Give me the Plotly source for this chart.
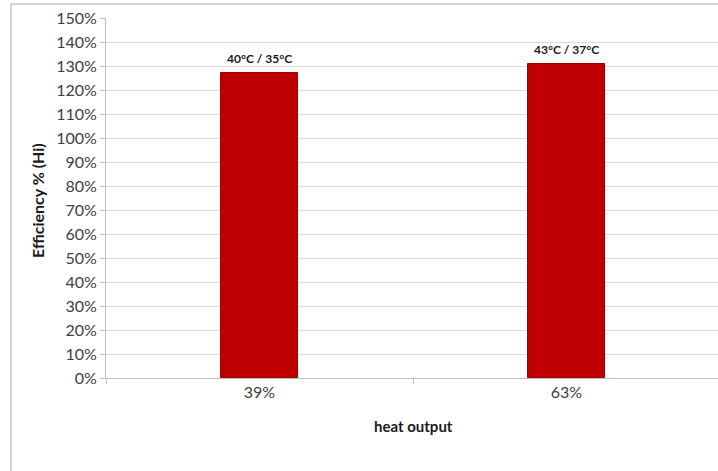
import plotly.graph_objects as go

categories = ["39%", "63%"]
efficiency = [127, 131]
bar_labels = ["40°C / 35°C", "43°C / 37°C"]
y_ticks = list(range(0, 151, 10))
y_tick_text = [f"{v}%" for v in y_ticks]

FONT = "Lato"

fig = go.Figure()
fig.add_trace(go.Bar(
    x=categories,
    y=efficiency,
    width=0.254,
    marker=dict(color="#c00000", line=dict(color="#a00000", width=1)),
    hoverinfo="skip",
))

for c, v, t in zip(categories, efficiency, bar_labels):
    fig.add_annotation(
        x=c, y=v, text=f"<b>{t}</b>", showarrow=False,
        xanchor="center", yanchor="bottom", yshift=5,
        font=dict(family=FONT, size=12, color="#1a1a1a"),
    )

W, H = 718, 471
L, T, B, R = 106, 18, 93, 0
pw = W - L - R
ph = H - T - B

fig.update_layout(
    width=W, height=H,
    margin=dict(l=L, r=R, t=T, b=B, pad=0),
    paper_bgcolor="white",
    plot_bgcolor="white",
    showlegend=False,
    font=dict(family=FONT, size=16, color="#404040"),
    xaxis=dict(
        type="category",
        range=[-0.5, 1.5 - 2 / 307],
        tickson="boundaries",
        ticks="outside",
        ticklen=5,
        tickcolor="#bfbfbf",
        showline=True,
        linecolor="#bfbfbf",
        showgrid=False,
        tickfont=dict(family=FONT, size=16, color="#404040"),
    ),
    yaxis=dict(
        range=[0, 150],
        tickvals=y_ticks,
        ticktext=y_tick_text,
        ticks="outside",
        ticklen=5,
        tickcolor="#bfbfbf",
        showline=True,
        linecolor="#bfbfbf",
        showgrid=True,
        gridcolor="#d9d9d9",
        gridwidth=1,
        zeroline=False,
        tickfont=dict(family=FONT, size=16, color="#404040"),
    ),
    bargap=0,
)

fig.add_annotation(
    text="<b>heat output</b>", xref="paper", yref="paper",
    x=(413 - L) / pw, y=-(426 - (T + ph)) / ph,
    showarrow=False, font=dict(family=FONT, size=15, color="#1a1a1a"),
    xanchor="center", yanchor="middle",
)
fig.add_annotation(
    text="<b>Efficiency % (Hi)</b>", xref="paper", yref="paper",
    x=(37 - L) / pw, y=((T + ph) - 201) / ph, textangle=-90,
    showarrow=False, font=dict(family=FONT, size=16, color="#1a1a1a"),
    xanchor="center", yanchor="middle",
)

fx = (11 - L) / pw
fy = 1 + (T - 4) / ph
fig.add_shape(type="line", xref="paper", yref="paper",
              x0=fx, x1=fx, y0=-0.5, y1=fy, line=dict(color="#a6a6a6", width=1))
fig.add_shape(type="line", xref="paper", yref="paper",
              x0=fx, x1=1.2, y0=fy, y1=fy, line=dict(color="#a6a6a6", width=1))

fig.write_html(
    "out.html",
    config={"displayModeBar": False},
    post_script="document.body.style.margin='0';document.body.style.overflow='hidden';",
)
